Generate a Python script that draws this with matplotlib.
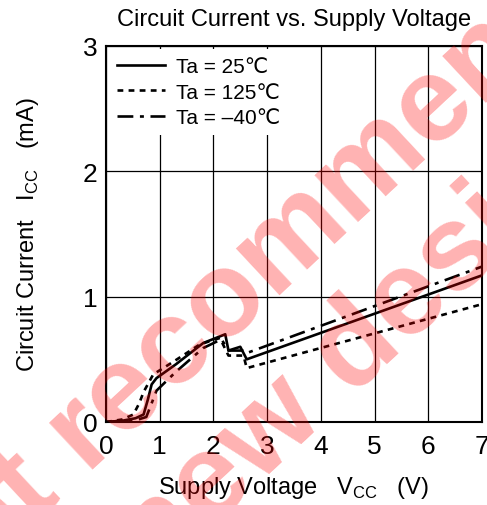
import matplotlib
matplotlib.use("Agg")
import matplotlib.pyplot as plt

# Data
vcc_25 = [0.0, 0.3, 0.55, 0.70, 0.78, 0.85, 0.94, 1.3, 1.81, 2.22, 2.28, 2.50, 2.62, 7.0]
icc_25 = [0.0, 0.01, 0.03, 0.06, 0.18, 0.30, 0.35, 0.46, 0.63, 0.70, 0.57, 0.60, 0.50, 1.17]

vcc_125 = [0.0, 0.3, 0.51, 0.62, 0.70, 0.88, 1.25, 1.75, 2.12, 2.28, 2.56, 2.62, 7.0]
icc_125 = [0.0, 0.02, 0.06, 0.15, 0.24, 0.38, 0.48, 0.62, 0.67, 0.53, 0.53, 0.43, 0.94]

vcc_m40 = [0.0, 0.3, 0.6, 0.75, 0.85, 0.94, 1.3, 1.81, 2.15, 2.28, 2.56, 2.62, 7.0]
icc_m40 = [0.0, 0.01, 0.02, 0.04, 0.15, 0.25, 0.40, 0.59, 0.66, 0.57, 0.57, 0.55, 1.24]

labels = ["Ta = 25\u2103", "Ta = 125\u2103", "Ta = \u201340\u2103"]

plt.rcParams['font.family'] = ['Liberation Sans', 'DejaVu Sans']
plt.rcParams['mathtext.fontset'] = 'custom'
plt.rcParams['mathtext.rm'] = 'Liberation Sans'

fig = plt.figure(figsize=(4.87, 5.06), dpi=100)
ax = fig.add_axes([106 / 487, 1 - 423 / 506, 376 / 487, 376 / 506])

lw = 1.9
ax.plot(vcc_25, icc_25, color='black', lw=lw, linestyle='-', label=labels[0])
ax.plot(vcc_125, icc_125, color='black', lw=lw, linestyle=(0, (2.2, 2.0)), label=labels[1])
ax.plot(vcc_m40, icc_m40, color='black', lw=lw, linestyle=(0, (6, 2.5, 1.5, 2.5)), label=labels[2])

ax.set_xlim(0, 7)
ax.set_ylim(0, 3)
ax.set_xticks(range(0, 8))
ax.set_yticks(range(0, 4))
ax.grid(True, color='black', linewidth=0.9)
ax.tick_params(length=0, labelsize=19)
ax.tick_params(axis='y', pad=6)
ax.tick_params(axis='x', pad=9)
for s in ax.spines.values():
    s.set_linewidth(1.5)

ax.set_title("Circuit Current vs. Supply Voltage", fontsize=17, pad=15)
ax.set_xlabel(r"Supply Voltage   V$_{\mathrm{CC}}$   (V)", fontsize=17, labelpad=11)
ax.set_ylabel(r"Circuit Current   I$_{\mathrm{CC}}$   (mA)", fontsize=17, labelpad=30)

leg = ax.legend(loc='upper left', fontsize=15, frameon=True, handlelength=2.3,
                borderaxespad=0.15, borderpad=0.4, labelspacing=0.3, handletextpad=0.5)
leg.get_frame().set_edgecolor('none')
leg.get_frame().set_facecolor('white')
leg.get_frame().set_alpha(1)
leg.set_zorder(2.4)  # above grid, below spines

# watermark, two lines placed separately
wm = dict(fontsize=87, fontweight='bold', color='red', alpha=0.3, rotation=43,
          ha='center', va='center', rotation_mode='anchor', zorder=10)
fig.text(282 / 487, 1 - 250 / 506, "Not recommended", **wm)
fig.text(303 / 487, 1 - 400 / 506, "for new design", **wm)

fig.savefig("out.png", dpi=100)
